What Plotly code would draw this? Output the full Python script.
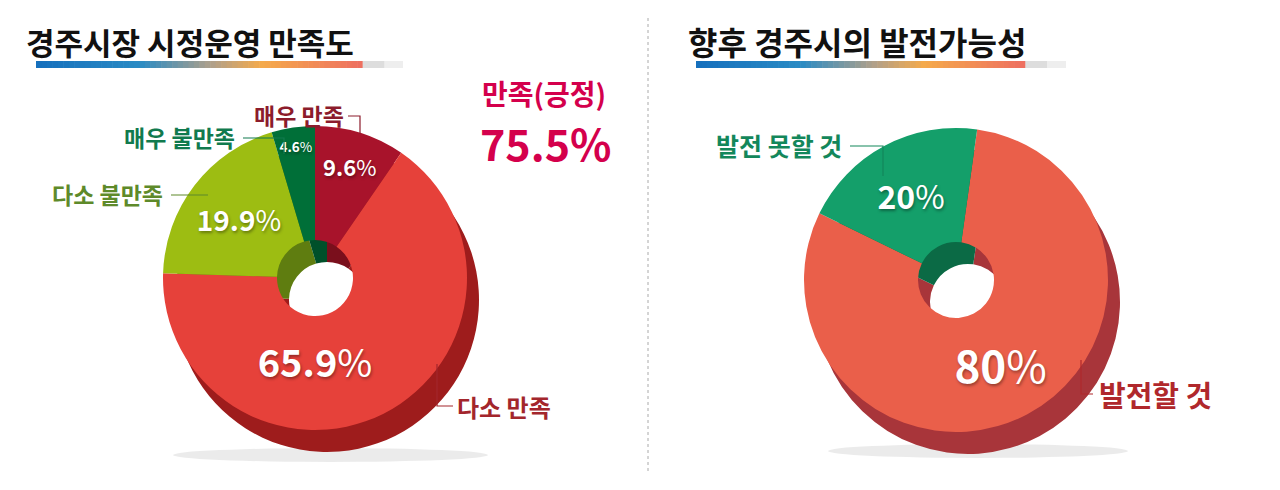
import plotly.graph_objects as go

W, H = 1280, 490
FONT = "Noto Sans CJK KR"

# left chart: 경주시장 시정운영 만족도
sat_labels = ['매우 만족', '다소 만족', '다소 불만족', '매우 불만족']
sat_values = [9.6, 65.9, 19.9, 4.6]
sat_colors = ['#a8132b', '#e6413a', '#9dbd12', '#006f38']
sat_depth = ['#7a0f1c', '#9e1c1c', '#5f7d10', '#00502a']
sat_text_size = [22, 38, 28, 17]
positive_total = '75.5%'

# right chart: 향후 경주시의 발전가능성
dev_labels = ['발전할 것', '발전 못할 것']
dev_values = [80, 20]
dev_colors = ['#ea5f4a', '#149f6a']
dev_depth = ['#a8353a', '#0b6a45']
dev_text_size = [44, 32]


def domain(cx, cy, r):
    # pixel centre/radius -> paper domain
    return dict(x=[(cx - r) / W, (cx + r) / W], y=[1 - (cy + r) / H, 1 - (cy - r) / H])


def grad(c1, c2, t):
    a = [int(c1[i:i + 2], 16) for i in (1, 3, 5)]
    b = [int(c2[i:i + 2], 16) for i in (1, 3, 5)]
    return 'rgb(%d,%d,%d)' % tuple(round(a[k] + (b[k] - a[k]) * t) for k in range(3))


def bar_shapes(x0, y0, length):
    # blue -> orange -> salmon underline, then grey tail
    stops = [(0.0, '#1670bd'), (0.28, '#2a8bc4'), (0.48, '#b0a08a'), (0.62, '#f5aa4b'), (0.89, '#ee7060')]
    out = []
    colored = length * 0.89
    n = 60
    step = colored / n
    for i in range(n):
        t = i / (n - 1) * 0.89
        for j in range(len(stops) - 1):
            if stops[j][0] <= t <= stops[j + 1][0]:
                f = (t - stops[j][0]) / (stops[j + 1][0] - stops[j][0])
                col = grad(stops[j][1], stops[j + 1][1], f)
                break
        out.append(dict(type='rect', xref='x', yref='y', x0=x0 + i * step, x1=x0 + (i + 1) * step + 0.6,
                        y0=y0, y1=y0 + 7, fillcolor=col, line_width=0, layer='below'))
    out.append(dict(type='rect', xref='x', yref='y', x0=x0 + colored, x1=x0 + length * 0.95,
                    y0=y0, y1=y0 + 7, fillcolor='#dddddd', line_width=0, layer='below'))
    out.append(dict(type='rect', xref='x', yref='y', x0=x0 + length * 0.95, x1=x0 + length,
                    y0=y0, y1=y0 + 7, fillcolor='#eeeeee', line_width=0, layer='below'))
    return out


fig = go.Figure()

# 3D-ish depth layer + top face for each donut
for labels, values, colors, depth, sizes, cx, cy, rot in [
    (sat_labels, sat_values, sat_colors, sat_depth, sat_text_size, 307, 270, 0),
    (dev_labels, dev_values, dev_colors, dev_depth, dev_text_size, 948, 272, 8),
]:
    fig.add_trace(go.Pie(labels=labels, values=values, sort=False, direction='clockwise', rotation=rot,
                         hole=0.25, domain=domain(cx + 12, cy + 22, 152), textinfo='none',
                         marker=dict(colors=depth, line=dict(width=0)), hoverinfo='skip', showlegend=False))
    fig.add_trace(go.Pie(labels=labels, values=values, sort=False, direction='clockwise', rotation=rot,
                         hole=0.25, domain=domain(cx, cy, 152), textposition='inside',
                         insidetextorientation='horizontal', texttemplate='<b>%{value}</b>%',
                         textfont=dict(family=FONT, color='white', size=sizes,
                                       shadow='1px 2px 3px rgba(0,0,0,0.35)'),
                         marker=dict(colors=colors, line=dict(width=0)), showlegend=False))

shapes = []
shapes += bar_shapes(28, 53, 367)
shapes += bar_shapes(688, 53, 370)

# floor shadows
shapes.append(dict(type='circle', xref='x', yref='y', x0=165, x1=480, y0=440, y1=454,
                   fillcolor='rgba(0,0,0,0.08)', line_width=0, layer='below'))
shapes.append(dict(type='circle', xref='x', yref='y', x0=820, x1=1120, y0=436, y1=450,
                   fillcolor='rgba(0,0,0,0.08)', line_width=0, layer='below'))

# dotted divider
shapes.append(dict(type='line', xref='x', yref='y', x0=640, x1=640, y0=10, y1=465,
                   line=dict(color='#aaaaaa', width=1, dash='dot')))

# leader lines
leaders = [
    ([340, 352, 352], [108, 108, 126], '#8c1c2c'),
    ([235, 276, 276], [130, 130, 146], '#117a4e'),
    ([163, 200], [187, 187], '#5e8a2a'),
    ([429, 429, 445], [356, 398, 398], '#a3262c'),
    ([842, 875, 875], [138, 138, 168], '#13875b'),
    ([1073, 1073, 1085], [352, 386, 386], '#b0282c'),
]
for xs, ys, col in leaders:
    path = 'M %d %d ' % (xs[0], ys[0]) + ' '.join('L %d %d' % (x, y) for x, y in zip(xs[1:], ys[1:]))
    shapes.append(dict(type='path', xref='x', yref='y', path=path, line=dict(color=col, width=1.2)))

annotations = [
    dict(x=16, y=33, text='<b>경주시장 시정운영 만족도</b>', xanchor='left', font=dict(size=31, color='#111111')),
    dict(x=678, y=33, text='<b>향후 경주시의 발전가능성</b>', xanchor='left', font=dict(size=32, color='#111111')),
    dict(x=536, y=85, text='<b>만족(긍정)</b>', font=dict(size=28, color='#d4004c')),
    dict(x=538, y=134, text='<b>' + positive_total + '</b>', font=dict(size=43, color='#d4004c')),
    dict(x=338, y=107, text='<b>매우 만족</b>', xanchor='right', font=dict(size=23, color='#8c1c2c')),
    dict(x=229, y=129, text='<b>매우 불만족</b>', xanchor='right', font=dict(size=23, color='#117a4e')),
    dict(x=157, y=186, text='<b>다소 불만족</b>', xanchor='right', font=dict(size=23, color='#5e8a2a')),
    dict(x=447, y=398, text='<b>다소 만족</b>', xanchor='left', font=dict(size=24, color='#a3262c')),
    dict(x=836, y=137, text='<b>발전 못할 것</b>', xanchor='right', font=dict(size=25, color='#13875b')),
    dict(x=1089, y=386, text='<b>발전할 것</b>', xanchor='left', font=dict(size=29, color='#b0282c')),
]
for a in annotations:
    a.update(xref='x', yref='y', showarrow=False, yanchor='middle')
    a['font']['family'] = FONT

fig.update_layout(
    width=W, height=H,
    margin=dict(l=0, r=0, t=0, b=0),
    paper_bgcolor='white', plot_bgcolor='rgba(0,0,0,0)',
    xaxis=dict(range=[0, W], visible=False, fixedrange=True, domain=[0, 1]),
    yaxis=dict(range=[H, 0], visible=False, fixedrange=True, domain=[0, 1]),
    shapes=shapes, annotations=annotations,
    font=dict(family=FONT),
)

fig.write_html("out.html")
